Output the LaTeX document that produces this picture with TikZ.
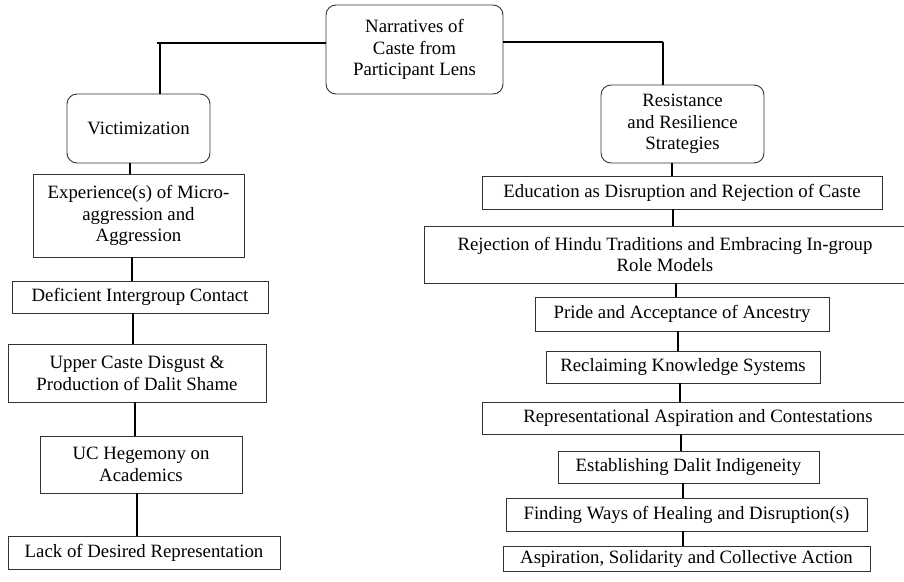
\documentclass[tikz,border=0pt]{standalone}
\usepackage{fontspec}
\setmainfont{Liberation Serif}
\begin{document}
\begin{tikzpicture}[x=1pt,y=-1pt,
  box/.style={draw=black!80, line width=0.9pt, align=center, inner sep=0pt,
    font=\fontsize{18.8}{21.7}\selectfont},
  rbox/.style={box, rounded corners=10pt},
  conn/.style={draw=black, line width=1.1pt}]
\useasboundingbox (0,0) rectangle (904,581);
\clip (0,0) rectangle (904,581);
% top
\node[rbox, minimum width=177pt, minimum height=89pt] (top) at (414.5,49.5) {Narratives of\\Caste from\\Participant Lens};
% left branch
\node[rbox, minimum width=143pt, minimum height=69pt] (vic) at (138.5,128.5) {Victimization};
\node[box, minimum width=211pt, minimum height=83pt] (exp) at (138.5,215.5) {Experience(s) of Micro-\\aggression and\\Aggression};
\node[box, minimum width=256pt, minimum height=32pt] (def) at (140,297) {Deficient Intergroup Contact};
\node[box, minimum width=258pt, minimum height=58pt] (upc) at (137,373) {Upper Caste Disgust \&\\Production of Dalit Shame};
\node[box, minimum width=202pt, minimum height=57pt] (uch) at (141,464.5) {UC Hegemony on\\Academics};
\node[box, minimum width=272pt, minimum height=33pt] (lack) at (144,552.5) {Lack of Desired Representation};
% right branch
\node[rbox, minimum width=163pt, minimum height=78pt] (res) at (682.5,124) {Resistance\\and Resilience\\Strategies};
\node[box, minimum width=400pt, minimum height=33pt] (edu) at (682,192.5) {Education as Disruption and Rejection of Caste};
\node[box, minimum width=482pt, minimum height=57pt] (rej) at (665,254.5) {Rejection of Hindu Traditions and Embracing In-group\\Role Models};
\node[box, minimum width=294pt, minimum height=34pt] (pri) at (682,314) {Pride and Acceptance of Ancestry};
\node[box, minimum width=274pt, minimum height=32pt] (rec) at (683,367) {Reclaiming Knowledge Systems};
\node[box, minimum width=432pt, minimum height=32pt] (rep) at (698,418) {Representational Aspiration and Contestations};
\node[box, minimum width=261pt, minimum height=32pt] (est) at (688.5,467) {Establishing Dalit Indigeneity};
\node[box, minimum width=361pt, minimum height=33pt] (fin) at (686.5,514.5) {Finding Ways of Healing and Disruption(s)};
\node[box, minimum width=367pt, minimum height=25pt] (asp) at (686.5,558.5) {Aspiration, Solidarity and Collective Action};
% top connectors
\coordinate (lcorner) at (157,43);
\coordinate (rcorner) at (663,42);
\draw[conn, line width=1.4pt] (top.west |- lcorner) -- (lcorner);
\draw[conn] (160,43) -- (vic.north -| 160,0);
\draw[conn, line width=1.4pt] (top.east |- rcorner) -- (rcorner);
\draw[conn] (rcorner) -- (res.north -| rcorner);
% left chain
\draw[conn] (vic.south -| 130,0) -- (exp.north -| 130,0);
\draw[conn] (exp.south -| 132,0) -- (def.north -| 132,0);
\draw[conn] (def.south -| 133,0) -- (upc.north -| 133,0);
\draw[conn] (upc.south -| 135,0) -- (uch.north -| 135,0);
\draw[conn] (uch.south -| 137,0) -- (lack.north -| 137,0);
% right chain
\draw[conn] (res.south -| 672,0) -- (edu.north -| 672,0);
\draw[conn] (edu.south -| 673,0) -- (rej.north -| 673,0);
\draw[conn] (rej.south -| 676,0) -- (pri.north -| 676,0);
\draw[conn] (pri.south -| 678,0) -- (rec.north -| 678,0);
\draw[conn] (rec.south -| 680,0) -- (rep.north -| 680,0);
\draw[conn] (rep.south -| 681,0) -- (est.north -| 681,0);
\draw[conn] (est.south -| 683,0) -- (fin.north -| 683,0);
\draw[conn] (fin.south -| 683,0) -- (asp.north -| 683,0);
\end{tikzpicture}
\end{document}
